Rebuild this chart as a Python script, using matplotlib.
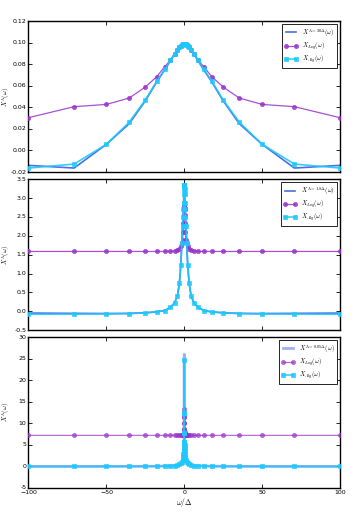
import matplotlib
matplotlib.use("Agg")
import matplotlib.pyplot as plt

plt.style.use('classic')

# positive half of the frequency grid (omega/Delta), from the edge to the centre
x_half = [100, 70.71, 50, 35.36, 25, 17.68, 12.5, 8.84, 6.25, 4.42, 3.125, 2.21,
          1.5625, 1.105, 0.78, 0.55, 0.39, 0.276, 0.195, 0.138, 0.098, 0.069, 0]

# Panel 1 (Lambda = 30 Delta)
exact1 = [-0.0138, -0.0163, 0.0057, 0.0248, 0.0460, 0.0636, 0.0748, 0.0833, 0.0894, 0.0934,
          0.0958, 0.0971, 0.0979, 0.0984, 0.0987, 0.0989, 0.0990, 0.0991, 0.0991, 0.0991,
          0.0991, 0.0991, 0.0991]
log1 = [0.0304, 0.0406, 0.0427, 0.0486, 0.0588, 0.0684, 0.0777, 0.0838, 0.0893, 0.0930,
        0.0955, 0.0970, 0.0979, 0.0984, 0.0987, 0.0989, 0.0990, 0.0991, 0.0991, 0.0991,
        0.0991, 0.0991, 0.0991]
alg1 = [-0.0163, -0.0126, 0.0057, 0.0262, 0.0468, 0.0642, 0.0752, 0.0835, 0.0895, 0.0935,
        0.0958, 0.0971, 0.0979, 0.0984, 0.0987, 0.0989, 0.0990, 0.0991, 0.0991, 0.0991,
        0.0991, 0.0991, 0.0991]

# Panel 2 (Lambda = 1.8 Delta)
exact2 = [-0.05, -0.058, -0.062, -0.058, -0.043, -0.017, 0.017, 0.104, 0.22, 0.40, 0.74,
          1.23, 1.81, 2.26, 2.5, 2.7, 2.88, 3.1, 3.25, 3.32, 3.35, 3.36, 3.36]
log2 = [1.585, 1.585, 1.585, 1.585, 1.585, 1.585, 1.585, 1.59, 1.60, 1.62, 1.66, 1.72,
        1.80, 1.9, 2.1, 2.35, 2.55, 2.7, 2.75, 2.8, 2.82, 2.83, 2.83]
alg2 = [-0.08, -0.077, -0.074, -0.065, -0.047, -0.02, 0.015, 0.104, 0.22, 0.40, 0.74,
        1.23, 1.81, 2.26, 2.5, 2.7, 2.88, 3.1, 3.25, 3.32, 3.35, 3.36, 3.36]

# Panel 3 (Lambda = 0.05 Delta)
exact3 = [0.0, 0.0, 0.01, 0.02, 0.03, 0.05, 0.08, 0.13, 0.2, 0.33, 0.5, 0.75, 1.1, 1.6,
          2.2, 2.8, 3.5, 4.2, 5.0, 5.7, 7.7, 12.5, 26.0]
log3 = [7.2, 7.2, 7.2, 7.2, 7.2, 7.2, 7.2, 7.2, 7.2, 7.2, 7.2, 7.2, 7.2, 7.22, 7.25, 7.3,
        7.45, 7.7, 8.0, 8.6, 10.0, 11.5, 13.3]
alg3 = [0.0, 0.0, 0.01, 0.02, 0.03, 0.05, 0.08, 0.13, 0.2, 0.33, 0.5, 0.75, 1.1, 1.6,
        2.2, 2.8, 3.5, 4.2, 5.0, 5.7, 7.7, 12.5, 24.7]

labels_exact = [r'$X^{\Lambda=30\Delta}(\omega)$', r'$X^{\Lambda=1.8\Delta}(\omega)$',
                r'$X^{\Lambda=0.05\Delta}(\omega)$']
ylims = [(-0.02, 0.12), (-0.5, 3.5), (-5, 30)]
yticks = [[-0.02, 0.00, 0.02, 0.04, 0.06, 0.08, 0.10, 0.12],
          [-0.5, 0.0, 0.5, 1.0, 1.5, 2.0, 2.5, 3.0, 3.5],
          [-5, 0, 5, 10, 15, 20, 25, 30]]
ytickfmt = ['%.2f', '%.1f', '%d']
xticks = [-100, -50, 0, 50, 100]
xticklabels = ['\u2212100', '\u221250', '0', '50', '100']


def mirror(h):
    # values are listed from the edge inward; the curves are symmetric in omega
    return list(h[:-1]) + [h[-1]] + list(reversed(h[:-1]))


x_full = [-v for v in x_half[:-1]] + [0] + list(reversed(x_half[:-1]))

fig = plt.figure(figsize=(3.54, 5.31), dpi=100, facecolor='white')
rects = [(0.0805, 0.676, 0.88, 0.2844),
         (0.0805, 0.3785, 0.88, 0.2838),
         (0.0805, 0.081, 0.88, 0.2843)]
data = [(exact1, log1, alg1), (exact2, log2, alg2), (exact3, log3, alg3)]
exact_colors = ['#4a6fe0', '#4a6fe0', '#9fb2f0']

for i, (rect, (ex, lg, al)) in enumerate(zip(rects, data)):
    ax = fig.add_axes(rect)
    ax.set_facecolor('white')
    ax.plot(x_full, mirror(ex), '-', color=exact_colors[i], lw=1.2 if i < 2 else 2.0,
            label=labels_exact[i], zorder=2)
    ax.plot(x_full, mirror(lg), '-o', color='#9932cc', mec='#9932cc', ms=3.0, lw=0.9,
            alpha=0.85 if i < 2 else 0.7, label=r'$X_{Log}(\omega)$', zorder=3)
    ax.plot(x_full, mirror(al), '-s', color='#1ec8ff', mec='#1ec8ff', ms=3.3, lw=1.2,
            alpha=0.9, label=r'$X_{Alg}(\omega)$', zorder=4)
    ax.set_xlim(-100, 100)
    ax.set_ylim(*ylims[i])
    ax.set_xticks(xticks)
    ax.set_yticks(yticks[i])
    ax.set_yticklabels([ytickfmt[i] % v for v in yticks[i]])
    ax.tick_params(axis='both', which='major', labelsize=4.5, length=3, width=0.6,
                   direction='in', top=True, right=True, pad=1.5)
    ax.tick_params(axis='both', which='minor', length=0)
    for s in ax.spines.values():
        s.set_linewidth(1.0)
    if i < 2:
        ax.set_xticklabels([])
    else:
        ax.set_xticklabels(xticklabels)
        ax.set_xlabel(r'$\omega/\Delta$', fontsize=5.5, labelpad=1)
    ax.set_ylabel(r'$X^{\Lambda}(\omega)$', fontsize=4.6, labelpad=0)
    ax.yaxis.set_label_coords(-0.054, 0.5)
    leg = ax.legend(loc='upper right', fontsize=4.5, numpoints=2, frameon=True,
                    fancybox=False, borderaxespad=0.5, handlelength=2.2,
                    borderpad=0.4, labelspacing=0.35, handletextpad=0.6)
    leg.get_frame().set_linewidth(0.6)
    leg.get_frame().set_edgecolor('black')

fig.savefig('out.png', dpi=100, facecolor='white')
